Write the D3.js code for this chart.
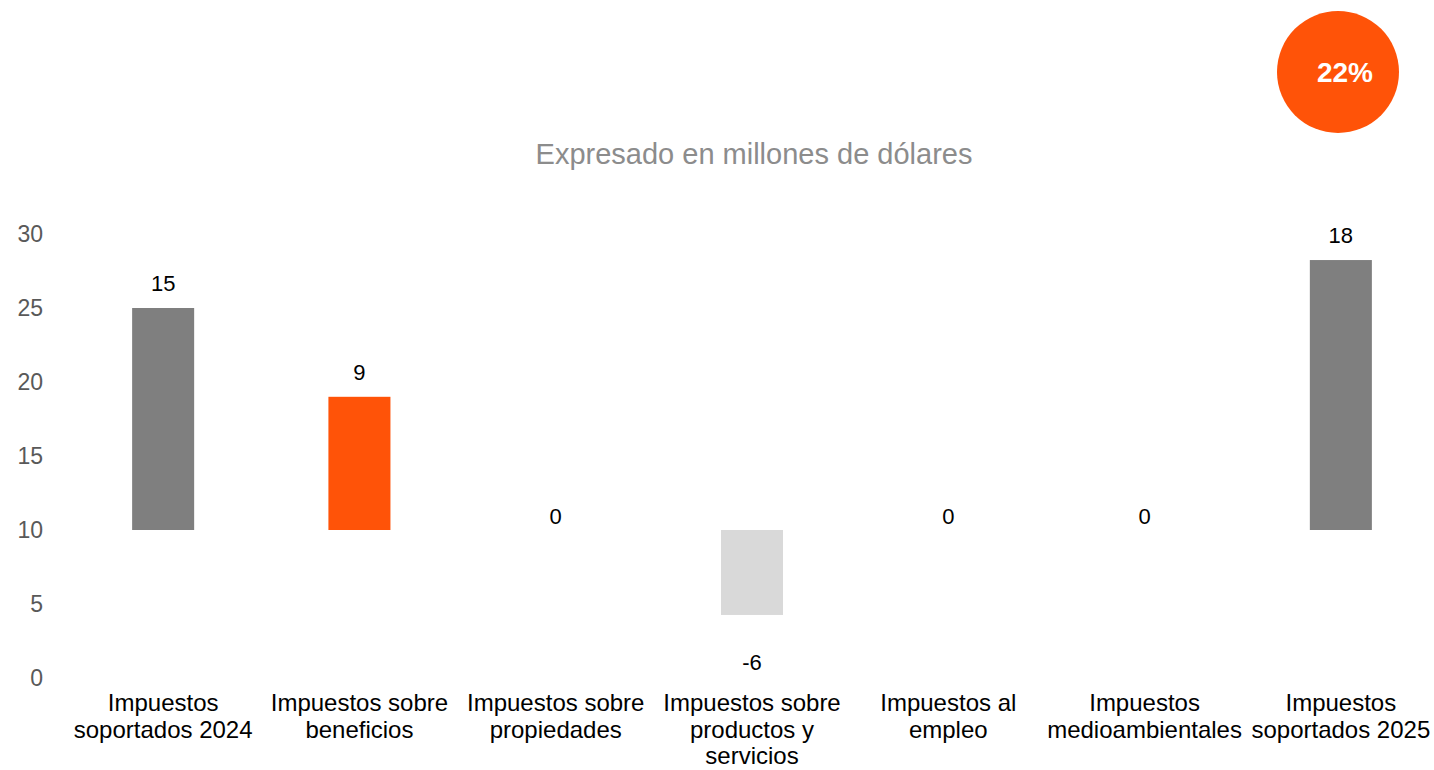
<!DOCTYPE html>
<html>
<head>
<meta charset="utf-8">
<script src="https://cdn.jsdelivr.net/npm/d3@7"></script>
<style>
  body { margin: 0; background: #fff; }
  svg { display: block; font-family: "Liberation Sans", Arial, sans-serif; }
</style>
</head>
<body>
<div id="chart"></div>
<script>

// data
var categories = [
  "Impuestos soportados 2024",
  "Impuestos sobre beneficios",
  "Impuestos sobre propiedades",
  "Impuestos sobre productos y servicios",
  "Impuestos al empleo",
  "Impuestos medioambientales",
  "Impuestos soportados 2025"
];
var values = [15, 9, 0, -5.74, 0, 0, 18.24];
var kinds = ["total", "up", "up", "down", "up", "up", "total"];
var yTicks = [0, 5, 10, 15, 20, 25, 30];
var baseline = 10;
var title = "Expresado en millones de dólares";
var badge = "22%";

var width = 1434, height = 770;
var colors = { total: "#7f7f7f", up: "#ff5308", down: "#d9d9d9" };

var svg = d3.select("#chart").append("svg")
    .attr("width", width)
    .attr("height", height);

var x = d3.scaleBand()
    .domain(categories)
    .range([65, 1439])
    .paddingInner(0.684)
    .paddingOuter(0.342);

var y = d3.scaleLinear()
    .domain([0, 30])
    .range([678, 234]);

// y axis, labels only
var yAxis = svg.append("g")
    .attr("transform", "translate(43,0)")
    .call(d3.axisLeft(y).tickValues(yTicks).tickSize(0).tickPadding(0));
yAxis.select(".domain").remove();
yAxis.selectAll("text")
    .attr("fill", "#595959")
    .style("font-size", "23px")
    .style("font-family", "Liberation Sans, Arial, sans-serif");

// title
svg.append("text")
    .attr("x", 754)
    .attr("y", 164)
    .attr("text-anchor", "middle")
    .attr("fill", "#8c8c8c")
    .style("font-size", "29px")
    .text(title);

// badge
svg.append("circle")
    .attr("cx", 1338)
    .attr("cy", 72)
    .attr("r", 61)
    .attr("fill", "#ff5308");
svg.append("text")
    .attr("x", 1345)
    .attr("y", 82)
    .attr("text-anchor", "middle")
    .attr("fill", "#fff")
    .style("font-size", "28px")
    .style("font-weight", "bold")
    .text(badge);

// bars
svg.append("g").selectAll("rect")
    .data(values)
    .enter().append("rect")
    .attr("x", function(d, i) { return x(categories[i]); })
    .attr("width", x.bandwidth())
    .attr("y", function(d) { return y(Math.max(baseline, baseline + d)); })
    .attr("height", function(d) { return Math.abs(y(baseline) - y(baseline + d)); })
    .attr("fill", function(d, i) { return colors[kinds[i]]; });

// value labels
var fmt = d3.formatLocale({ decimal: ".", thousands: ",", grouping: [3], currency: ["$", ""], minus: "-" }).format(".0f");
svg.append("g").selectAll("text")
    .data(values)
    .enter().append("text")
    .attr("x", function(d, i) { return x(categories[i]) + x.bandwidth() / 2; })
    .attr("y", function(d) {
      if (d < 0) return y(baseline + d) + 55;
      if (d === 0) return y(baseline) - 6;
      return y(baseline + d) - 17;
    })
    .attr("text-anchor", "middle")
    .attr("fill", "#000")
    .style("font-size", "22px")
    .text(function(d) { return fmt(d); });

// category labels, wrapped
var maxW = 200, lineH = 26.5;
var cat = svg.append("g").selectAll("g")
    .data(categories)
    .enter().append("g")
    .attr("transform", function(d) {
      return "translate(" + (x(d) + x.bandwidth() / 2) + ",711)";
    });

cat.each(function(d) {
  var g = d3.select(this);
  var words = d.split(" "), lines = [], line = [];
  var probe = g.append("text").style("font-size", "24px");
  words.forEach(function(w) {
    var test = line.concat([w]).join(" ");
    probe.text(test);
    if (line.length && probe.node().getComputedTextLength() > maxW) {
      lines.push(line.join(" "));
      line = [w];
    } else {
      line.push(w);
    }
  });
  lines.push(line.join(" "));
  probe.remove();
  g.selectAll("text")
    .data(lines)
    .enter().append("text")
    .attr("y", function(l, i) { return i * lineH; })
    .attr("text-anchor", "middle")
    .attr("fill", "#000")
    .style("font-size", "24px")
    .text(function(l) { return l; });
});

</script>
</body>
</html>
